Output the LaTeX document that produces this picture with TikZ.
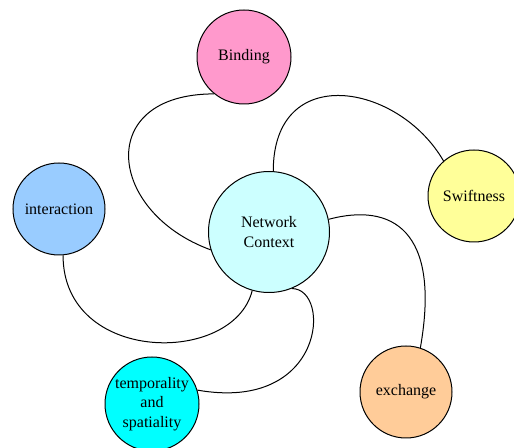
\documentclass[tikz,border=0pt]{standalone}
\usepackage{fontspec}
\setmainfont{Liberation Serif}
\usepackage{tikz}
\usetikzlibrary{arrows}
\definecolor{netcol}{HTML}{CCFFFF}
\definecolor{bindcol}{HTML}{FF99CC}
\definecolor{swiftcol}{HTML}{FFFF99}
\definecolor{intercol}{HTML}{99CCFF}
\definecolor{tempcol}{HTML}{00FFFF}
\definecolor{exchcol}{HTML}{FFCC99}

\begin{document}
\begin{tikzpicture}[x=0.75pt,y=-0.75pt,line width=0.75pt]
  \tikzstyle{topic}=[circle,draw=black,text=black,align=center,inner sep=0pt,
                     minimum size=69pt,font=\fontsize{12}{14.8}\selectfont]
  \useasboundingbox (0,0) rectangle (514,448);

  \node[topic,fill=netcol,minimum size=90.75pt] (N) at (269,232) {Network\\Context};
  \node[topic,fill=bindcol,minimum size=70.5pt] (B) at (244,57)  {Binding};
  \node[topic,fill=swiftcol] (S) at (474,196) {Swiftness};
  \node[topic,fill=intercol] (I) at (59,209)  {interaction};
  \node[topic,fill=tempcol,minimum size=70.5pt] (T) at (152,404) {temporality\\and\\spatiality};
  \node[topic,fill=exchcol]  (E) at (406,392) {exchange};

  \path (N.197) edge[out=160,in=180,out distance=82.5pt,in distance=90pt] (B.231)
        (N.86)  edge[out=90,in=120,out distance=82.5pt,in distance=67.5pt] (S.131)
        (N.12)  edge[out=15,in=80,out distance=48.75pt,in distance=90pt]   (E.72)
        (N.254) edge[out=256,in=270,out distance=58pt,in distance=82pt]    (I.275)
        (N.292) edge[out=0,in=350,out distance=30pt,in distance=97.5pt]    (T.17);
\end{tikzpicture}
\end{document}
